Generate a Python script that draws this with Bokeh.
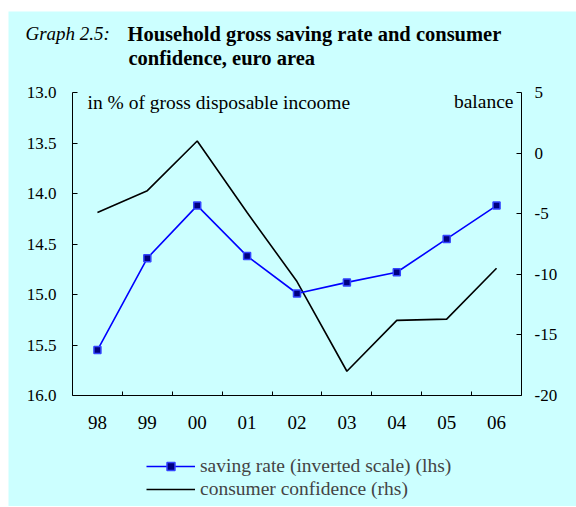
from bokeh.plotting import figure
from bokeh.models import (Range1d, LinearAxis, FixedTicker, Label, Legend, LegendItem,
                          CustomJSTickFormatter, NumeralTickFormatter)
from bokeh.embed import file_html
from bokeh.resources import INLINE

years = ["98", "99", "00", "01", "02", "03", "04", "05", "06"]
saving = [15.55, 14.64, 14.12, 14.62, 14.99, 14.88, 14.78, 14.45, 14.12]
confidence = [-4.9, -3.1, 1.0, -4.9, -10.6, -18.0, -13.8, -13.7, -9.5]
left_ticks = [13.0, 13.5, 14.0, 14.5, 15.0, 15.5, 16.0]
right_ticks = [-20, -15, -10, -5, 0, 5]

BG = "#CCFFFF"
FONT = "Liberation Serif"

# layout (pixels): canvas 576x506, cyan panel from (8, 11); plot box x 72..521, y 92..395
W, H = 576, 506
PX0, PY0 = 8, 11
BOX_L, BOX_R, BOX_T, BOX_B = 72, 521, 92, 395

n = len(years)
x = [i + 0.5 for i in range(n)]
bounds = [i for i in range(1, n)]

lmin, lmax = left_ticks[0], left_ticks[-1]
rmin, rmax = right_ticks[0], right_ticks[-1]
xpx = (BOX_R - BOX_L) / n
lpx = (BOX_B - BOX_T) / (lmax - lmin)
rpx = (BOX_B - BOX_T) / (rmax - rmin)

x_range = Range1d(-(BOX_L - PX0) / xpx, n + (W - BOX_R) / xpx)
y_range = Range1d(lmax + (H - BOX_B) / lpx, lmin - (BOX_T - PY0) / lpx)
r_range = Range1d(rmin - (H - BOX_B) / rpx, rmax + (BOX_T - PY0) / rpx)

p = figure(width=W, height=H, output_backend="svg", toolbar_location=None,
           x_range=x_range, y_range=y_range,
           min_border_left=PX0, min_border_top=PY0, min_border_right=0, min_border_bottom=0,
           x_axis_location=None, y_axis_location=None)
p.background_fill_color = BG
p.border_fill_color = "white"
p.outline_line_color = None
p.grid.visible = False
p.extra_y_ranges = {"rhs": r_range}

def style(ax, size):
    ax.axis_line_color = "black"
    ax.axis_line_width = 1
    ax.major_tick_in = 5
    ax.major_tick_out = 0
    ax.minor_tick_line_color = None
    ax.major_label_text_font = FONT
    ax.major_label_text_font_size = size
    ax.major_label_text_color = "black"

xa = LinearAxis(ticker=FixedTicker(ticks=x, minor_ticks=bounds),
                formatter=CustomJSTickFormatter(args=dict(labels=years),
                                                code="return labels[Math.floor(tick)]"),
                bounds=(0, n), fixed_location=lmax)
style(xa, "19px")
xa.major_tick_line_color = None
xa.minor_tick_line_color = "black"
xa.minor_tick_in = 4
xa.minor_tick_out = 0
xa.major_label_standoff = 20
p.add_layout(xa, "below")

ya = LinearAxis(ticker=FixedTicker(ticks=left_ticks), formatter=NumeralTickFormatter(format="0.0"),
                bounds=(lmin, lmax), fixed_location=0)
style(ya, "17px")
ya.major_label_standoff = 16
p.add_layout(ya, "left")

yr = LinearAxis(y_range_name="rhs", ticker=FixedTicker(ticks=right_ticks),
                formatter=NumeralTickFormatter(format="0"),
                bounds=(rmin, rmax), fixed_location=n)
style(yr, "17px")
yr.major_label_standoff = 13
p.add_layout(yr, "right")

conf_line = p.line(x, confidence, y_range_name="rhs", line_color="black", line_width=1.6)
sav_line = p.line(x, saving, line_color="#0000FF", line_width=1.6)
sav_pts = p.scatter(x, saving, marker="square", size=7, fill_color="#000080",
                    line_color="#3344FF", line_width=1.5)

legend = Legend(items=[
    LegendItem(label="saving rate (inverted scale) (lhs)", renderers=[sav_line, sav_pts]),
    LegendItem(label="consumer confidence (rhs)", renderers=[conf_line]),
], location=(146 - PX0, H - 500), padding=0, margin=0, spacing=1,
    glyph_width=49, glyph_height=20, label_height=20, label_standoff=5,
    label_text_font=FONT, label_text_font_size="19.5px",
    background_fill_alpha=0, border_line_color=None)
p.add_layout(legend, "center")

def lab(text, px, py, size="16px", style="normal", align="left"):
    # px, py: page position of the text's anchor (left/right edge, vertical middle)
    p.add_layout(Label(x=px - PX0, y=H - py, x_units="screen", y_units="screen", text=text,
                       text_font=FONT, text_font_size=size, text_font_style=style,
                       text_baseline="middle", text_align=align, text_color="black"))

lab("Graph 2.5:", 25, 33, size="19px", style="italic")
lab("Household gross saving rate and consumer", 127, 33, size="20.5px", style="bold")
lab("confidence, euro area", 128, 57, size="20.5px", style="bold")
lab("in % of gross disposable incoome", 87, 102, size="19.5px")
lab("balance", 513, 101, size="19.5px", align="right")

open("out.html", "w").write(file_html(p, INLINE))
